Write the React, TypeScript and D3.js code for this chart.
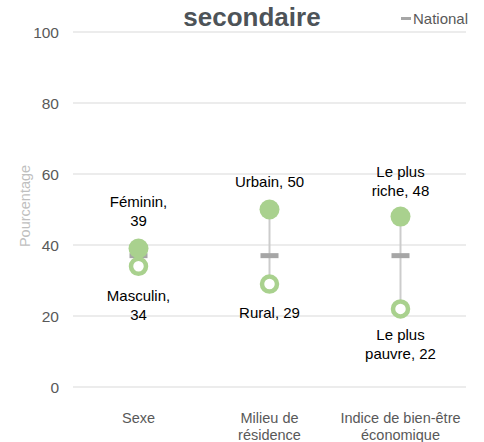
import React from "react";
import * as d3 from "d3";

const categories = ["Sexe", "Milieu de\nrésidence", "Indice de bien-être\néconomique"];
const highValues = [39, 50, 48];
const lowValues = [34, 29, 22];
const nationalValues = [37, 37, 37];
const highLabels = ["Féminin,\n39", "Urbain, 50", "Le plus\nriche, 48"];
const lowLabels = ["Masculin,\n34", "Rural, 29", "Le plus\npauvre, 22"];
const yTicks = [0, 20, 40, 60, 80, 100];

const W = 484, H = 442;
const margin = { left: 73, right: 18, top: 32, bottom: 55 };
const GREEN = "#a9d18e";
const FONT = "'Liberation Sans', Arial, sans-serif";

export default function App() {
  const x = d3.scaleBand().domain(categories).range([margin.left, W - margin.right]);
  const y = d3.scaleLinear().domain([0, 100]).range([H - margin.bottom, margin.top]);
  const cx = (c: string) => (x(c) as number) + x.bandwidth() / 2;

  const multiline = (s: string, xx: number, yy: number, lh: number, props: any, key: string) => (
    <text key={key} x={xx} y={yy} textAnchor="middle" {...props}>
      {s.split("\n").map((l, i) => (
        <tspan key={i} x={xx} dy={i === 0 ? 0 : lh}>{l}</tspan>
      ))}
    </text>
  );

  const lbl = { fontSize: 15, fill: "#000" };

  return (
    <svg width={W} height={H} style={{ position: "absolute", left: 0, top: 0, background: "#fff" }} fontFamily={FONT}>
      <text x={252} y={26} textAnchor="middle" fontSize={26} fontWeight="bold" fill="#4d5358">secondaire</text>
      <rect x={401} y={17} width={10} height={3} fill="#a6a6a6" />
      <text x={413} y={24} fontSize={15} fill="#595959">National</text>

      {yTicks.map((t) => (
        <g key={t}>
          <line x1={margin.left} x2={W - margin.right} y1={y(t)} y2={y(t)} stroke="#d9d9d9" strokeWidth={1} />
          <text x={59} y={y(t) + 5.5} textAnchor="end" fontSize={15.5} fill="#595959">{t}</text>
        </g>
      ))}
      <text transform={`translate(30,${206}) rotate(-90)`} textAnchor="middle" fontSize={14.5} fill="#bfbfbf">Pourcentage</text>

      {categories.map((c, i) =>
        multiline(c, cx(c), 423, 17, { fontSize: 14.5, fill: "#595959" }, "cat" + i)
      )}

      {categories.map((c, i) => (
        <g key={"m" + i}>
          <line x1={cx(c)} x2={cx(c)} y1={y(highValues[i])} y2={y(lowValues[i])} stroke="#cccccc" strokeWidth={2} />
          <rect x={cx(c) - 9} y={y(nationalValues[i]) - 2.5} width={18} height={5} fill="#a6a6a6" />
          <circle cx={cx(c)} cy={y(highValues[i])} r={10} fill={GREEN} />
          <circle cx={cx(c)} cy={y(lowValues[i])} r={7.5} fill="#fff" stroke={GREEN} strokeWidth={4.5} />
        </g>
      ))}

      {multiline(highLabels[0], cx(categories[0]), 207, 19, lbl, "hl0")}
      {multiline(highLabels[1], cx(categories[1]), 187, 19, lbl, "hl1")}
      {multiline(highLabels[2], cx(categories[2]), 177, 19, lbl, "hl2")}
      {multiline(lowLabels[0], cx(categories[0]), 301, 19, lbl, "ll0")}
      {multiline(lowLabels[1], cx(categories[1]), 318, 19, lbl, "ll1")}
      {multiline(lowLabels[2], cx(categories[2]), 340, 19, lbl, "ll2")}
    </svg>
  );
}
